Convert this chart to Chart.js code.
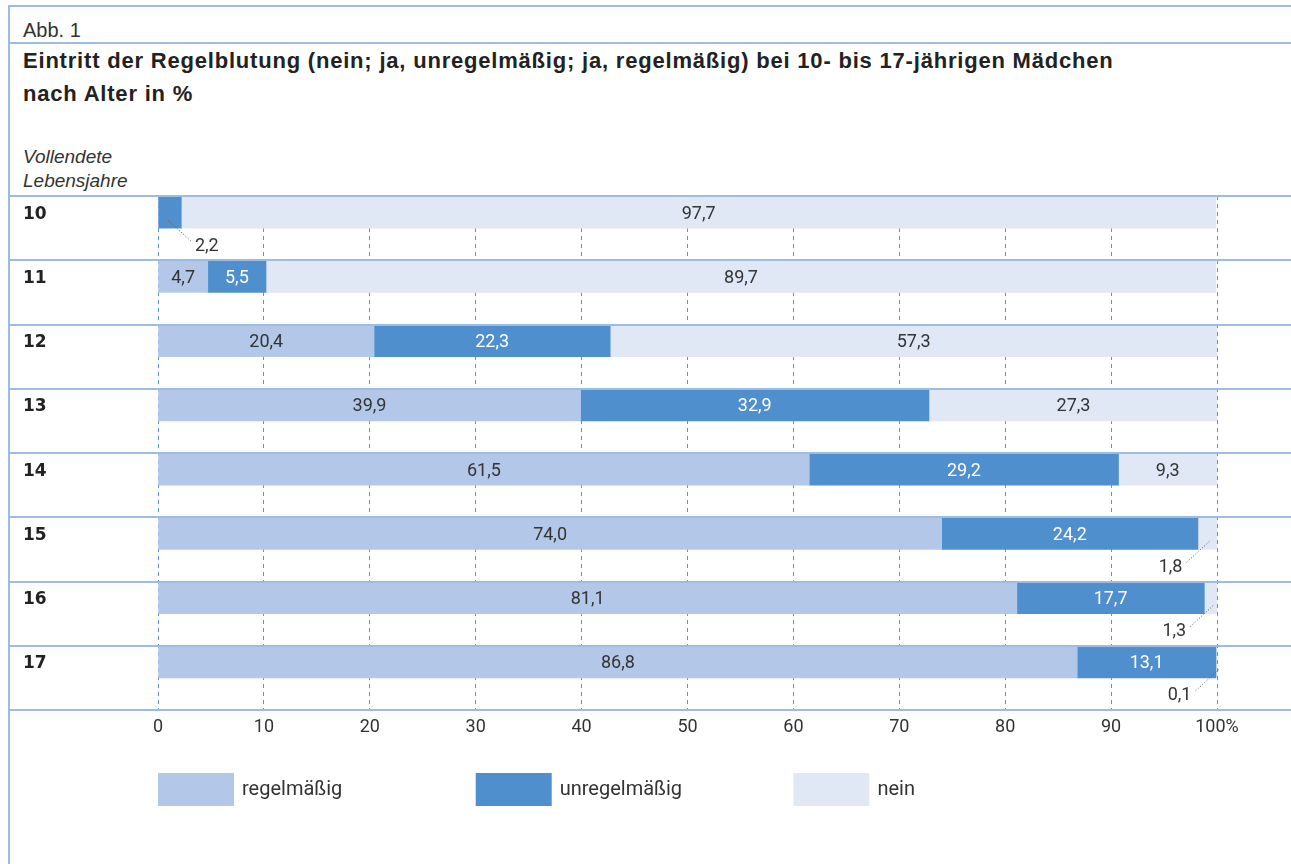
<!DOCTYPE html>
<html lang="de">
<head>
<meta charset="utf-8">
<title>Abb. 1</title>
<script src="https://cdn.jsdelivr.net/npm/chart.js@4.4.1/dist/chart.umd.min.js"></script>
<style>
  body { margin: 0; width: 1291px; height: 864px; overflow: hidden; background: #fff; font-family: "Liberation Sans", Arial, sans-serif; color: #222; }
  #frame { position: absolute; left: 8px; top: 5px; right: 0; bottom: 0; border-left: 2px solid #9dbde0; border-top: 2px solid #9dbde0; }
  #rule { position: absolute; left: 8px; right: 0; top: 42px; border-top: 2px solid #9dbde0; }
  #abb { position: absolute; left: 23px; top: 19px; font-size: 20px; color: #333; }
  #title { position: absolute; left: 23px; top: 44px; font-size: 22px; font-weight: bold; line-height: 33px; letter-spacing: 0.8px; }
  #axis-title { position: absolute; left: 23px; top: 145px; font-size: 19px; font-style: italic; line-height: 24px; color: #333; }
  canvas { position: absolute; left: 0; top: 0; }
</style>
</head>
<body>
<div id="frame"></div>
<div id="rule"></div>
<div id="abb">Abb. 1</div>
<div id="title">Eintritt der Regelblutung (nein; ja, unregelmäßig; ja, regelmäßig) bei 10- bis 17-jährigen Mädchen<br>nach Alter in %</div>
<div id="axis-title">Vollendete<br>Lebensjahre</div>
<canvas id="chart" width="1291" height="864"></canvas>
<script>
// Vollendete Lebensjahre
var ages = ['10', '11', '12', '13', '14', '15', '16', '17'];
// Anteile in %
var regelmaessig   = [0, 4.7, 20.4, 39.9, 61.5, 74.0, 81.1, 86.8];
var unregelmaessig = [2.2, 5.5, 22.3, 32.9, 29.2, 24.2, 17.7, 13.1];
var nein           = [97.7, 89.7, 57.3, 27.3, 9.3, 1.8, 1.3, 0.1];
var seriesNames = ['regelmäßig', 'unregelmäßig', 'nein'];
var seriesColors = ['#b3c8e8', '#4f8fcd', '#e0e8f5'];

Chart.defaults.font.family = 'Roboto';

// trennlinien zwischen den zeilen, ueber die ganze breite
var rowLines = {
	id: 'rowLines',
	afterDatasetsDraw: function(chart) {
		var y = chart.scales.y;
		var ctx = chart.ctx;
		ctx.save();
		ctx.strokeStyle = '#9dbde0';
		ctx.lineWidth = 2;
		for (var i = 0; i <= ages.length; i++) {
			var py = Math.round(y.getPixelForValue(i - 0.5));
			ctx.beginPath();
			ctx.moveTo(8, py);
			ctx.lineTo(chart.width, py);
			ctx.stroke();
		}
		ctx.restore();
	}
};

// werte in den balken, kleine werte darunter mit hinweislinie
var valueLabels = {
	id: 'valueLabels',
	afterDatasetsDraw: function(chart) {
		var ctx = chart.ctx;
		var area = chart.chartArea;
		ctx.save();
		ctx.font = '18px Roboto';
		ctx.textBaseline = 'middle';
		chart.data.datasets.forEach(function(ds, di) {
			if (!ds.labelColor) return;
			chart.getDatasetMeta(di).data.forEach(function(bar, i) {
				var v = ds.data[i];
				if (!v) return;
				var txt = v.toFixed(1).replace('.', ',');
				var cx = (bar.x + bar.base) / 2;
				if (v >= 3) {
					ctx.fillStyle = ds.labelColor;
					ctx.textAlign = 'center';
					ctx.fillText(txt, cx, bar.y + 2);
				} else {
					var dir = cx < (area.left + area.right) / 2 ? 1 : -1;
					var sx = cx - dir * 2, sy = bar.y + 8;
					var ex = cx + dir * 22, ey = bar.y + 30;
					ctx.strokeStyle = '#555';
					ctx.lineWidth = 1;
					ctx.setLineDash([1, 2]);
					ctx.beginPath();
					ctx.moveTo(sx, sy);
					ctx.lineTo(ex, ey);
					ctx.stroke();
					ctx.setLineDash([]);
					ctx.fillStyle = '#333';
					ctx.textAlign = dir > 0 ? 'left' : 'right';
					ctx.fillText(txt, ex + dir * 3, ey + 4);
				}
			});
		});
		ctx.restore();
	}
};

// legende unter der achse
var legendBoxes = {
	id: 'legendBoxes',
	afterDraw: function(chart) {
		var ctx = chart.ctx;
		var x = chart.scales.x;
		var top = chart.chartArea.bottom + 63;
		ctx.save();
		ctx.font = '20px Roboto';
		ctx.textBaseline = 'middle';
		ctx.textAlign = 'left';
		for (var i = 0; i < seriesNames.length; i++) {
			var left = x.getPixelForValue(i * 30);
			ctx.fillStyle = seriesColors[i];
			ctx.fillRect(left, top, 76, 33);
			ctx.fillStyle = '#333';
			ctx.fillText(seriesNames[i], left + 84, top + 17);
		}
		ctx.restore();
	}
};

var chartdata = {
	labels: ages,
	datasets: [
		{ label: seriesNames[0], data: regelmaessig, backgroundColor: seriesColors[0], stack: 'a', labelColor: '#333' },
		{ label: seriesNames[1], data: unregelmaessig, backgroundColor: seriesColors[1], stack: 'a', labelColor: '#fff' },
		{ label: seriesNames[2], data: nein, backgroundColor: seriesColors[2], stack: 'a', labelColor: '#333' },
		// leerer stapel, damit die balken in der oberen zeilenhaelfte liegen
		{ label: '', data: ages.map(function() { return 0; }), backgroundColor: 'rgba(0,0,0,0)', stack: 'b' }
	]
};

var ctx = document.getElementById('chart');
var barGraph = new Chart(ctx, {
	type: 'bar',
	data: chartdata,
	options: {
		indexAxis: 'y',
		responsive: false,
		animation: false,
		barPercentage: 1,
		categoryPercentage: 1,
		layout: { padding: { top: 196, left: 23, right: 74, bottom: 124 } },
		plugins: {
			legend: { display: false },
			tooltip: { enabled: false }
		},
		scales: {
			x: {
				stacked: true,
				min: 0,
				max: 100,
				ticks: {
					stepSize: 10,
					padding: 7,
					color: '#333',
					font: { size: 18 },
					callback: function(v) { return v === 100 ? '100%' : v; }
				},
				grid: { color: '#5a96d2', lineWidth: 1, drawTicks: false },
				border: { display: false, dash: [4, 4] },
				afterFit: function(s) { s.height = 30; }
			},
			y: {
				stacked: true,
				ticks: {
					crossAlign: 'far',
					labelOffset: -14,
					color: '#222',
					font: { family: 'DejaVu Sans', weight: 'bold', size: 17 }
				},
				grid: { display: false },
				border: { display: false },
				afterFit: function(s) { s.width = 135; }
			}
		}
	},
	plugins: [rowLines, valueLabels, legendBoxes]
});
</script>
</body>
</html>
